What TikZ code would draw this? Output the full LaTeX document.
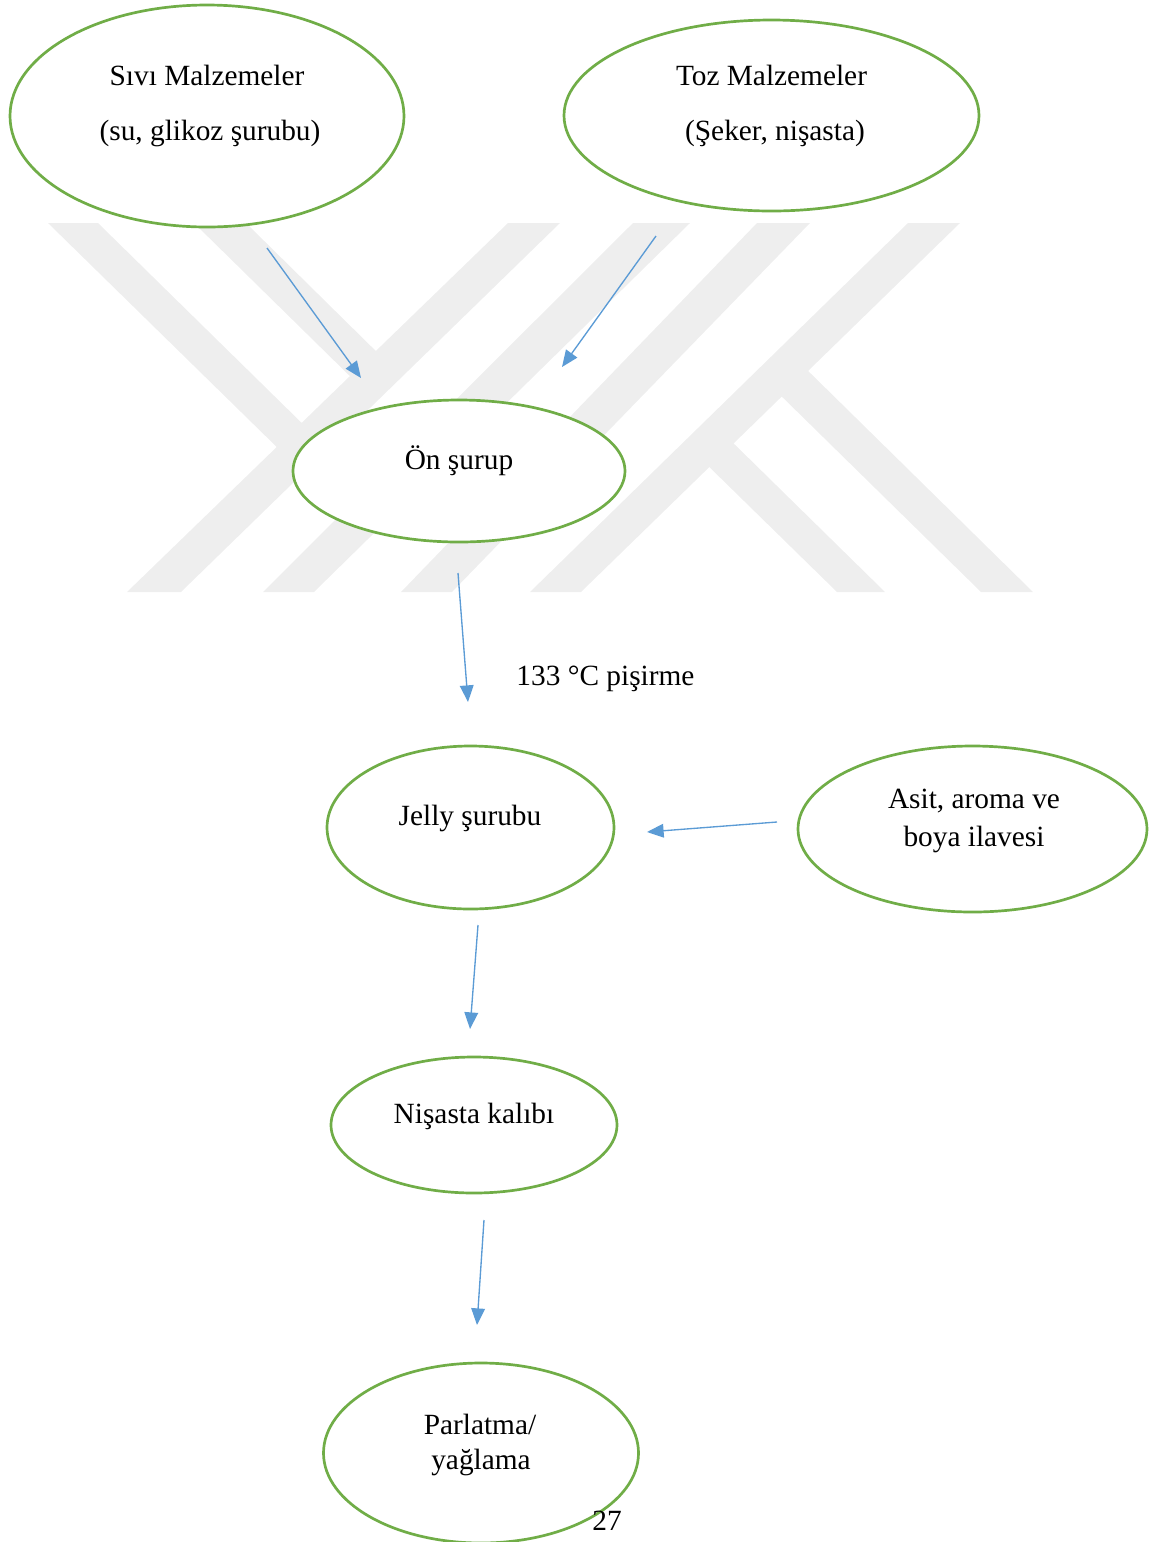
\documentclass[tikz,border=0pt]{standalone}
\usepackage{fontspec}
\setmainfont{Liberation Serif}
\usetikzlibrary{shapes.geometric,arrows.meta}

\definecolor{ovgreen}{HTML}{70AD47}
\definecolor{arblue}{HTML}{5B9BD5}
\definecolor{wmgray}{RGB}{238,238,238}
\newcommand{\pxu}{0.409pt}

\begin{document}
\begin{tikzpicture}[x=0.409pt,y=-0.409pt,
    stage/.style 2 args={ellipse,draw=ovgreen,line width=1.1pt,fill=white,inner sep=0pt,
        minimum width=#1*\pxu,minimum height=#2*\pxu},
    txt/.style={anchor=base,inner sep=0pt,font=\fontsize{12pt}{14pt}\selectfont},
    flow/.style={draw=arblue,line width=0.55pt,-{Triangle[length=6.8pt,width=5.6pt]}},
    wm/.style={fill=wmgray}]
    \useasboundingbox (0,0) rectangle (1156,1542);

    %Wasserzeichen
    \fill[wm] (127,592) -- (181,592) -- (560,223) -- (508,223) -- cycle;
    \fill[wm] (263,592) -- (314,592) -- (690,223) -- (633,223) -- cycle;
    \fill[wm] (401,592) -- (452,592) -- (810,223) -- (757,223) -- cycle;
    \fill[wm] (530,592) -- (581,592) -- (960,223) -- (908,223) -- cycle;
    \fill[wm] (48,223) -- (98,223) -- (314,435) -- (289,459) -- cycle;
    \fill[wm] (194,223) -- (246,223) -- (388,363) -- (362,388) -- cycle;
    \fill[wm] (770,385) -- (796,359) -- (1033,592) -- (981,592) -- cycle;
    \fill[wm] (697,455) -- (721,431) -- (885,592) -- (837,592) -- cycle;

    %Ellipsen
    \node[stage={394}{222}] (sivi) at (207,116) {};
    \node[stage={415}{191}] (toz) at (771.5,115.5) {};
    \node[stage={332}{142}] (on) at (459,471) {};
    \node[stage={287}{163}] (jelly) at (470.5,827.5) {};
    \node[stage={349}{166}] (asit) at (972.5,829) {};
    \node[stage={286}{136}] (kalip) at (474,1125) {};
    \node[stage={315}{180}] (parla) at (481,1453) {};

    %Texte
    \node[txt] (sivi-a) at (207,85) {Sıvı Malzemeler};
    \node[txt] (sivi-b) at (210,140) {(su, glikoz şurubu)};
    \node[txt] (toz-a) at (771.5,85) {Toz Malzemeler};
    \node[txt] (toz-b) at (775,140) {(Şeker, nişasta)};
    \node[txt] (on-a) at (459,469) {Ön şurup};
    \node[txt] (jelly-a) at (470,825) {Jelly şurubu};
    \node[txt] (asit-a) at (974,808) {Asit, aroma ve};
    \node[txt] (asit-b) at (974,846) {boya ilavesi};
    \node[txt] (kalip-a) at (474,1123) {Nişasta kalıbı};
    \node[txt] (parla-a) at (480,1434) {Parlatma/};
    \node[txt] (parla-b) at (481,1469) {yağlama};
    \node[txt,anchor=base west] (cook) at (516,685) {133 °C pişirme};
    \node[txt] (pageno) at (607,1530) {27};

    %Pfeile
    \draw[flow] ([shift={(60,132)}]sivi.center) -- ([shift={(-98,-93)}]on.center);
    \draw[flow] ([shift={(-115.5,120.5)}]toz.center) -- ([shift={(103,-104)}]on.center);
    \draw[flow] ([shift={(-1,102)}]on.center) -- ([shift={(-2.5,-125.5)}]jelly.center);
    \draw[flow] ([shift={(-195.5,-7)}]asit.center) -- ([shift={(176.5,4.5)}]jelly.center);
    \draw[flow] ([shift={(7.5,97.5)}]jelly.center) -- ([shift={(-4,-96)}]kalip.center);
    \draw[flow] ([shift={(10,95)}]kalip.center) -- ([shift={(-4,-128)}]parla.center);
\end{tikzpicture}
\end{document}
